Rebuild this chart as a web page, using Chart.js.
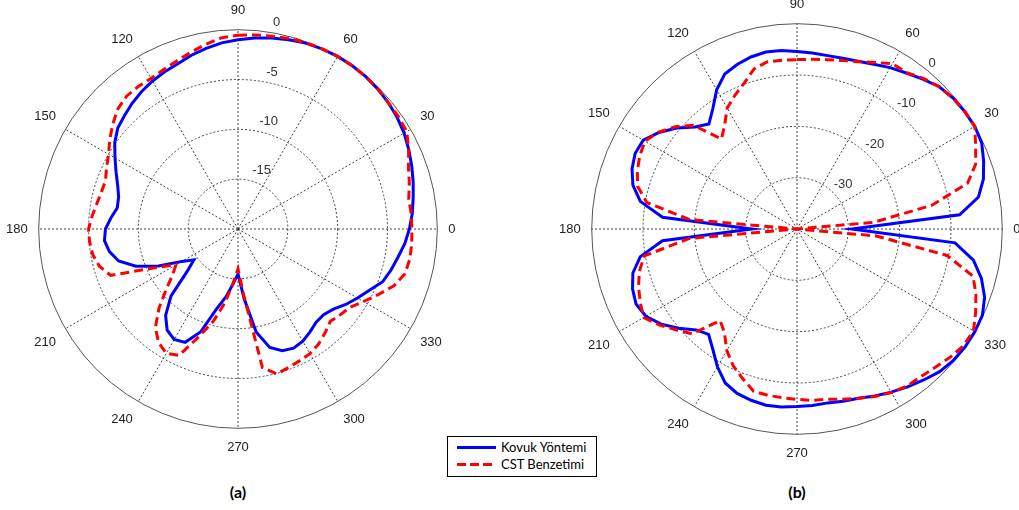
<!DOCTYPE html>
<html>
<head>
<meta charset="utf-8">
<script src="https://cdn.jsdelivr.net/npm/chart.js@4.4.1/dist/chart.umd.min.js"></script>
<style>
  body { margin: 0; background: #fff; }
  #page { position: relative; width: 1019px; height: 510px; overflow: hidden; background: #fff; }
  canvas { position: absolute; }
  #chartA { left: -1px; top: -2px; }
  #chartB { left: 552px; top: -8px; }
  .legend { position: absolute; left: 447px; top: 436px; width: 148px; height: 39px; border: 1px solid #000; background: #fff; font-family: Lato, sans-serif; font-size: 13px; color: #000; }
  .legend .sample { position: absolute; left: 9px; width: 39px; height: 3px; }
  .legend .txt { position: absolute; left: 53px; line-height: 16px; white-space: nowrap; }
  .caption { position: absolute; top: 482px; width: 40px; text-align: center; font-family: Lato, sans-serif; font-weight: bold; font-size: 16px; color: #000; }
</style>
</head>
<body>
<div id="page">
  <canvas id="chartA" width="464" height="464"></canvas>
  <canvas id="chartB" width="476" height="476"></canvas>
  <div class="legend">
    <div class="sample" style="top:9px; background:#0000ff;"></div>
    <div class="txt" style="top:2px;">Kovuk Yöntemi</div>
    <div class="sample" style="top:26px; background:repeating-linear-gradient(to right, #ff0000 0 9px, transparent 9px 13px);"></div>
    <div class="txt" style="top:19px;">CST Benzetimi</div>
  </div>
  <div class="caption" style="left:218px;">(a)</div>
  <div class="caption" style="left:777px;">(b)</div>
</div>
<script>
// açılar (derece), 5 derece adım
const angles = [0, 5, 10, 15, 20, 25, 30, 35, 40, 45, 50, 55, 60, 65, 70, 75, 80, 85,
  90, 95, 100, 105, 110, 115, 120, 125, 130, 135, 140, 145, 150, 155, 160, 165, 170, 175,
  180, 185, 190, 195, 200, 205, 210, 215, 220, 225, 230, 235, 240, 245, 250, 255, 260, 265,
  270, 275, 280, 285, 290, 295, 300, 305, 310, 315, 320, 325, 330, 335, 340, 345, 350, 355];
const angleLabels = [0, 30, 60, 90, 120, 150, 180, 210, 240, 270, 300, 330];

// (a) dB değerleri
const aKovuk = [-2.8, -2.45, -2.15, -1.8, -1.45, -1.1, -0.75, -0.5, -0.3, -0.15, -0.05, 0, 0, -0.05, -0.15, -0.35, -0.55, -0.75,
  -1.0, -1.25, -1.6, -1.95, -2.35, -2.6, -2.85, -3.15, -3.5, -3.9, -4.25, -4.9, -5.75, -6.5, -7.15, -7.6, -7.7, -7.2,
  -6.7, -6.55, -6.9, -7.6, -9.1, -11.2, -13.5, -14.6, -13.3, -10.5, -8.7, -7.6, -7.2, -7.45, -9.0, -11.7, -13.1, -14.5,
  -15.5, -13.0, -9.5, -7.7, -7.0, -6.8, -7.0, -7.4, -7.8, -7.85, -7.5, -6.8, -6.15, -5.45, -4.55, -4.1, -3.7, -3.2];
const aCST = [-2.55, -2.55, -2.6, -2.2, -1.8, -1.1, -0.45, -0.35, -0.3, -0.15, -0.05, 0, 0, -0.05, -0.1, -0.2, -0.35, -0.45,
  -0.55, -0.75, -1.2, -1.65, -2.05, -2.35, -2.55, -2.55, -2.6, -2.95, -3.6, -4.3, -5.0, -5.45, -5.85, -5.8, -5.6, -5.3,
  -5.0, -5.05, -5.2, -5.6, -6.4, -10.8, -12.8, -12.0, -10.6, -8.8, -7.1, -6.1, -5.6, -6.0, -8.5, -10.4, -12.5, -14.6,
  -16.0, -13.3, -5.9, -4.95, -5.2, -5.4, -5.55, -5.9, -6.4, -6.9, -6.6, -6.3, -5.45, -4.45, -3.35, -2.65, -2.5, -2.5];
const aRingTicks = [-15, -10, -5, 0];

// (b) dB değerleri
const bKovuk = [-29.3, -8.2, -4.1, -2.4, -1.3, -0.3, 0, -0.1, -0.3, -0.8, -1.9, -2.9, -3.7, -4.6, -5.2, -5.55, -5.7, -5.6,
  -5.4, -5.1, -5.0, -5.3, -5.9, -6.7, -8.7, -11.4, -13.3, -11.9, -9.4, -7.2, -5.4, -5.2, -5.8, -6.9, -9.0, -13.7,
  -31.2, -13.7, -9.0, -6.9, -5.9, -5.4, -6.0, -7.7, -9.9, -12.2, -13.2, -11.4, -9.0, -6.9, -5.9, -5.45, -5.15, -5.2,
  -5.4, -5.5, -5.6, -5.25, -4.9, -4.1, -3.3, -2.45, -1.6, -0.7, -0.2, 0, 0, -0.15, -1.1, -2.8, -5.1, -9.1];
const bCST = [-40, -25, -13.3, -5.6, -2.95, -1.6, 0, -0.1, -0.35, -0.8, -1.7, -2.8, -2.8, -4.2, -5.3, -6.0, -6.5, -6.8,
  -7.0, -7.0, -6.9, -7.7, -9.8, -11.3, -12.8, -15.4, -17.1, -11.4, -9.0, -7.1, -5.8, -6.2, -6.9, -7.85, -10.3, -19,
  -40, -19, -9.8, -8.2, -7.15, -6.3, -5.5, -7.35, -9.4, -11.1, -16.7, -15.35, -12.65, -10.6, -9.0, -7.3, -7.1, -7.0,
  -6.8, -6.5, -6.3, -5.65, -4.9, -4.0, -3.2, -2.65, -2.45, -1.9, -1.1, -0.4, -0.3, -1.6, -2.9, -4.5, -10.3, -24.5];
const bRingTicks = [-30, -20, -10, 0];

// radar: ilk nokta üstte (90°), saat yönünde ilerler -> açı sırasını çevir
const radarAngles = angles.map((a, i) => (90 - i * 5 + 360) % 360);
function reorder(values) {
  return radarAngles.map(a => values[angles.indexOf(a)]);
}

// halka etiketlerini belirli bir açı boyunca yaz
const ringLabels = {
  id: 'ringLabels',
  beforeDatasetsDraw(chart, args, opts) {
    const s = chart.scales.r;
    const ctx = chart.ctx;
    const t = opts.angle * Math.PI / 180;
    ctx.save();
    ctx.font = '13px "Liberation Sans", Arial, sans-serif';
    ctx.fillStyle = '#333';
    ctx.textAlign = 'left';
    ctx.textBaseline = 'bottom';
    opts.values.forEach(v => {
      const d = s.getDistanceFromCenterForValue(v) + opts.offset;
      ctx.fillText(String(v), s.xCenter + d * Math.cos(t) + 7, s.yCenter - d * Math.sin(t));
    });
    ctx.restore();
  }
};

function makePolar(id, kovuk, cst, min, max, step, ringTicks, labelAngle, labelOffset) {
  const maxVal = max;
  return new Chart(document.getElementById(id), {
    type: 'radar',
    data: {
      labels: radarAngles.map(String),
      datasets: [
        {
          label: 'CST Benzetimi',
          data: reorder(cst),
          borderColor: '#ff0000',
          borderWidth: 3,
          borderDash: [9, 5],
          fill: false
        },
        {
          label: 'Kovuk Yöntemi',
          data: reorder(kovuk),
          borderColor: '#0000ff',
          borderWidth: 3,
          fill: false
        }
      ]
    },
    options: {
      responsive: false,
      animation: false,
      elements: {
        point: { radius: 0, hoverRadius: 0 },
        line: { tension: 0 }
      },
      plugins: {
        legend: { display: false },
        tooltip: { enabled: false },
        ringLabels: { angle: labelAngle, offset: labelOffset, values: ringTicks }
      },
      scales: {
        r: {
          min: min,
          max: max,
          startAngle: 0,
          ticks: { display: false, stepSize: step },
          grid: {
            circular: true,
            color: function(c) { return c.tick && c.tick.value === maxVal ? '#555' : '#444'; },
            lineWidth: 1
          },
          border: {
            dash: function(c) { return c.tick && c.tick.value === maxVal ? [] : [2, 2]; }
          },
          angleLines: {
            color: '#444',
            lineWidth: function(c) { return c.index % 6 === 0 ? 1 : 0; },
            borderDash: [2, 2]
          },
          pointLabels: {
            padding: 11,
            color: '#222',
            font: { family: '"Liberation Sans", Arial, sans-serif', size: 13 },
            callback: function(label) {
              return angleLabels.includes(Number(label)) ? label : '';
            }
          }
        }
      }
    },
    plugins: [ringLabels]
  });
}

makePolar('chartA', aKovuk, aCST, -20, 0, 5, aRingTicks, 82, 2.5);
makePolar('chartB', bKovuk, bCST, -40, 0, 10, bRingTicks, 52, -3);
</script>
</body>
</html>
